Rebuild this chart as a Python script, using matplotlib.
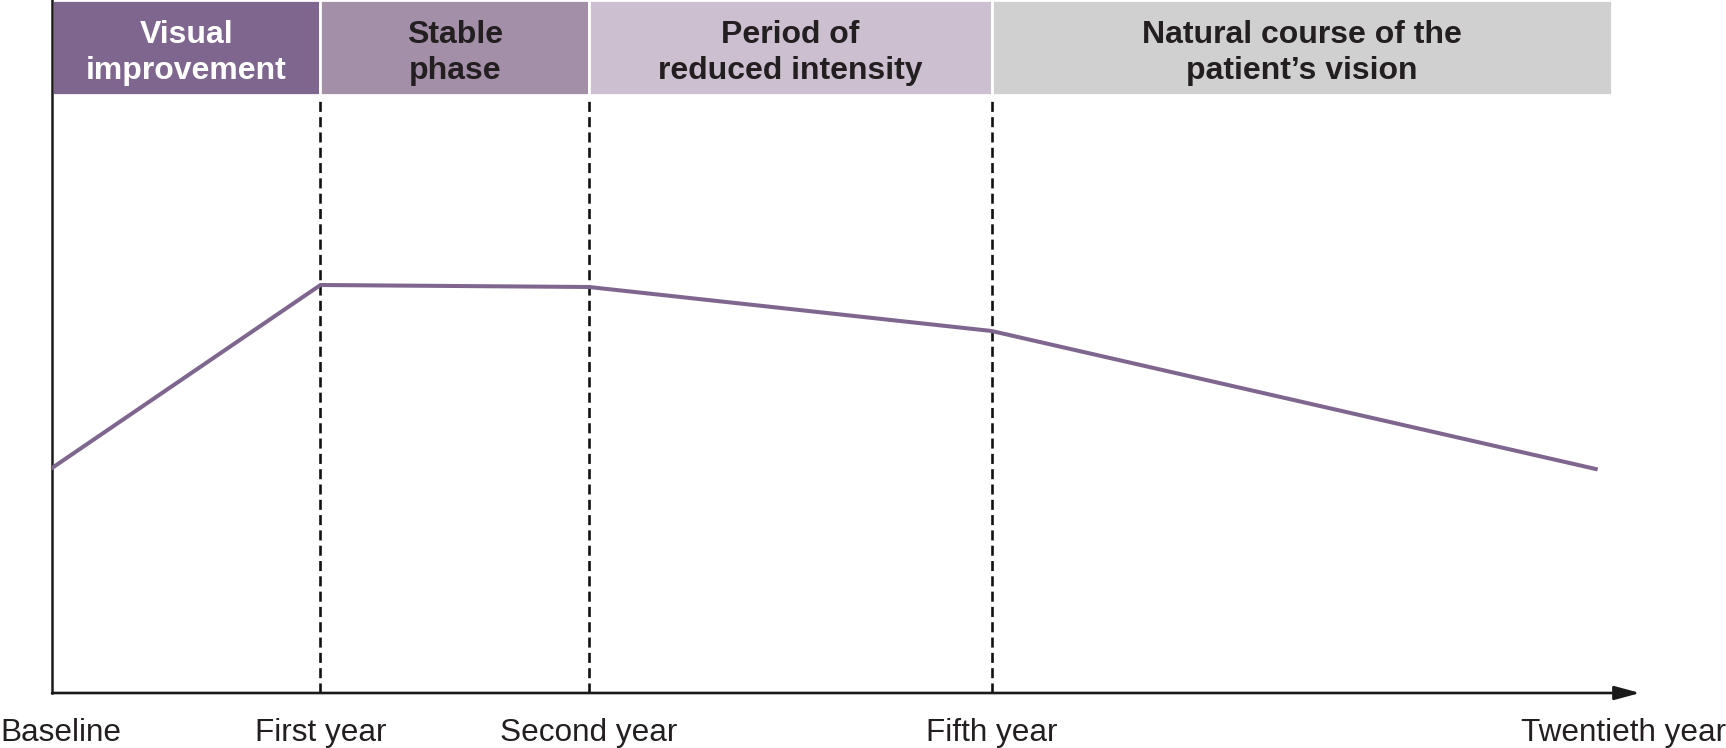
import matplotlib
matplotlib.use("Agg")
import matplotlib.pyplot as plt

# Timeline positions (Baseline, 1st, 2nd, 5th, 20th year) and relative visual acuity
time_pos = [0, 1, 2, 3.5, 5.75]
time_labels = ["Baseline", "First year", "Second year", "Fifth year", "Twentieth year"]
vision = [2.25, 4.08, 4.06, 3.62, 2.24]

# Header phases: start, end, title
phase_start = [0, 1, 2, 3.5]
phase_end = [1, 2, 3.5, 5.81]
phase_names = ["Visual\nimprovement", "Stable\nphase", "Period of\nreduced intensity",
               "Natural course of the\npatient\u2019s vision"]
phase_colors = ["#7f668e", "#a48fa9", "#cbbfd0", "#d1d0d1"]
phase_text_colors = ["white", "#231f20", "#231f20", "#231f20"]

line_color = "#7f668e"
W, H = 1726, 748
y_top = 6.93
band_bottom = 5.98

plt.rcParams["font.family"] = ["Liberation Sans", "DejaVu Sans"]

fig = plt.figure(figsize=(W / 100, H / 100), dpi=100)
ax = fig.add_axes([52 / W, 55 / H, 1584 / W, 693 / H])
ax.set_xlim(0, 5.9)
ax.set_ylim(0, y_top)

# Phase header boxes
for s, e, name, c, tc in zip(phase_start, phase_end, phase_names, phase_colors, phase_text_colors):
    ax.bar(s, y_top - band_bottom, width=e - s, bottom=band_bottom, align="edge",
           color=c, edgecolor="white", linewidth=2, zorder=2)
    ax.text((s + e) / 2, 6.40, name, ha="center", va="center",
            color=tc, fontsize=23, fontweight="bold", linespacing=1.3, zorder=3)

# Dashed separators
for x in phase_start[1:]:
    ax.plot([x, x], [0, band_bottom], color="#111111", linestyle=(0, (3.8, 2)),
            linewidth=1.9, zorder=1)

# Vision curve
ax.plot(time_pos, vision, color=line_color, linewidth=2.9, zorder=4, solid_joinstyle="miter")

# Axes: left spine plus arrowed x axis
for side in ["top", "right", "bottom"]:
    ax.spines[side].set_visible(False)
ax.spines["left"].set_linewidth(1.8)
ax.spines["left"].set_color("#1a1a1a")
ax.annotate("", xy=(5.915, 0), xytext=(0, 0), xycoords="data",
            arrowprops=dict(arrowstyle="-|>,head_length=1.55,head_width=0.42",
                            color="#1a1a1a", linewidth=1.9, shrinkA=0, shrinkB=0),
            annotation_clip=False, zorder=5)
ax.set_xticks([])
ax.set_yticks([])

# Time labels
label_y = 7 / H
for i, (x, lab) in enumerate(zip(time_pos, time_labels)):
    if i == 0:
        fig.text(0, label_y, lab, ha="left", va="baseline", fontsize=22.7, color="#231f20")
    elif i == len(time_pos) - 1:
        fig.text(1, label_y, lab, ha="right", va="baseline", fontsize=22.7, color="#231f20")
    else:
        xf = fig.transFigure.inverted().transform(ax.transData.transform((x, 0)))[0]
        fig.text(xf, label_y, lab, ha="center", va="baseline", fontsize=22.7, color="#231f20")

fig.savefig("out.png", dpi=100)
